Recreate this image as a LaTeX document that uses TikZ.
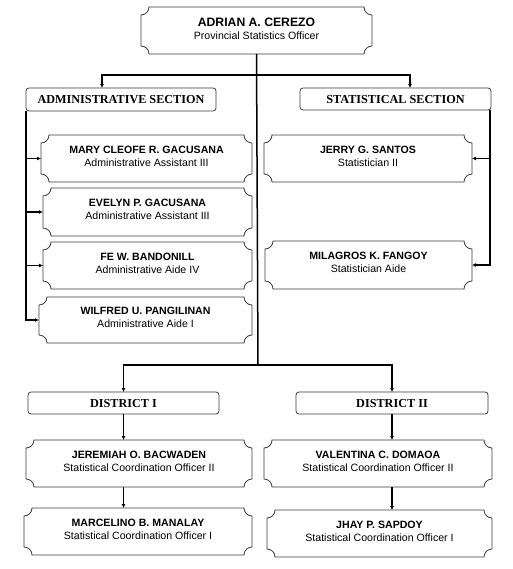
\documentclass[tikz,border=0pt]{standalone}
\usepackage{fontspec}
\setmainfont{Liberation Sans}
\newfontfamily\serifsec{Liberation Serif}
\usetikzlibrary{arrows.meta}
\definecolor{boxgray}{HTML}{3C3C3C}
\newcommand\plqr{8pt}
\newcommand\plaqueoutline[1]{%
  \draw[boxline] ([xshift=\plqr]#1.north west) -- ([xshift=-\plqr]#1.north east)
    arc[start angle=180,end angle=270,radius=\plqr] -- ([yshift=\plqr]#1.south east)
    arc[start angle=90,end angle=180,radius=\plqr] -- ([xshift=\plqr]#1.south west)
    arc[start angle=0,end angle=90,radius=\plqr] -- ([yshift=-\plqr]#1.north west)
    arc[start angle=270,end angle=360,radius=\plqr] -- cycle;}
\tikzset{
  boxline/.style={draw=boxgray,line width=0.8pt},
  staffbox/.style={inner sep=0pt,outer sep=0pt,align=center,
    text height=15.5pt,text depth=0pt,minimum height=47pt,
    font=\fontsize{10.6}{12.8}\selectfont},
  secbox/.style={inner sep=0pt,outer sep=0pt,draw=boxgray,line width=0.8pt,
    text height=8.1pt,text depth=0pt,minimum height=22pt,
    rounded corners=3pt,font=\serifsec\bfseries\fontsize{12.2}{14}\selectfont},
  conn/.style={line width=1.5pt,black},
  arr/.style={line width=1.5pt,black,-{Latex[length=4pt,width=4pt]}},
}
\begin{document}
\begin{tikzpicture}[x=1pt,y=1pt]
\useasboundingbox (0,0) rectangle (512,-569);
% top
\node[staffbox,text height=18.6pt,minimum width=231pt] (top) at (256.5,-30.5) {{\bfseries\fontsize{12.2}{12.5}\selectfont ADRIAN A. CEREZO}\\Provincial Statistics Officer};
% sections
\node[secbox,minimum width=190pt,minimum height=23pt] (adm) at (121,-99.5) {ADMINISTRATIVE SECTION};
\node[secbox,minimum width=191pt] (stat) at (395.5,-99) {STATISTICAL SECTION};
% admin staff
\node[staffbox,minimum width=211pt] (mary) at (146.5,-158.5) {\textbf{MARY CLEOFE R. GACUSANA}\\Administrative Assistant III};
\node[staffbox,minimum width=209pt,minimum height=48pt] (evel) at (147.5,-212) {\textbf{EVELYN P. GACUSANA}\\Administrative Assistant III};
\node[staffbox,minimum width=209pt] (fe) at (147.5,-265.5) {\textbf{FE W. BANDONILL}\\Administrative Aide IV};
\node[staffbox,minimum width=213pt,minimum height=46pt] (wilf) at (145.5,-320) {\textbf{WILFRED U. PANGILINAN}\\Administrative Aide I};
% stat staff
\node[staffbox,minimum width=208pt] (jerry) at (368,-158.5) {\textbf{JERRY G. SANTOS}\\Statistician II};
\node[staffbox,minimum width=207pt,minimum height=48pt] (mil) at (368.5,-265) {\textbf{MILAGROS K. FANGOY}\\Statistician Aide};
% districts
\node[secbox,minimum width=191pt] (d1) at (123.5,-403) {DISTRICT I};
\node[secbox,minimum width=192pt] (d2) at (392,-403) {DISTRICT II};
\node[staffbox,minimum width=226pt] (jer) at (139,-463.5) {\textbf{JEREMIAH O. BACWADEN}\\Statistical Coordination Officer II};
\node[staffbox,minimum width=228pt] (marc) at (138,-531.5) {\textbf{MARCELINO B. MANALAY}\\Statistical Coordination Officer I};
\node[staffbox,minimum width=228pt] (val) at (378,-463.5) {\textbf{VALENTINA C. DOMAOA}\\Statistical Coordination Officer II};
\node[staffbox,minimum width=225pt] (jhay) at (379.5,-533.5) {\textbf{JHAY P. SAPDOY}\\Statistical Coordination Officer I};
% outlines
\foreach \n in {top,mary,evel,fe,wilf,jerry,mil,jer,marc,val,jhay} {\plaqueoutline{\n}}
% connectors
\coordinate (j1) at (258,-75);
\coordinate (j2) at (258,-365);
\draw[conn] (top.south) -- (j2);
\draw[arr] (j1) -| ([xshift=76pt]adm.north west);
\draw[arr] (j1) -| ([xshift=110pt]stat.north west);
\draw[arr] (j2) -| (d1.north);
\draw[arr] (j2) -| (d2.north);
% admin
\draw[arr] (adm.south west) |- (wilf.west);
\draw[arr] (adm.south west |- mary.west) -- (mary.west);
\draw[arr] (adm.south west |- evel.west) -- (evel.west);
\draw[arr] (adm.south west |- fe.west) -- (fe.west);
% stat
\draw[arr] ([xshift=-1pt]stat.south east) |- (mil.east);
\draw[arr] ([xshift=-1pt]stat.south east |- jerry.east) -- (jerry.east);
% districts
\draw[arr] (d1.south) -- (d1.south |- jer.north);
\draw[arr] (d1.south |- jer.south) -- (d1.south |- marc.north);
\draw[arr] (d2.south) -- (d2.south |- val.north);
\draw[arr] (d2.south |- val.south) -- (d2.south |- jhay.north);
\end{tikzpicture}
\end{document}
